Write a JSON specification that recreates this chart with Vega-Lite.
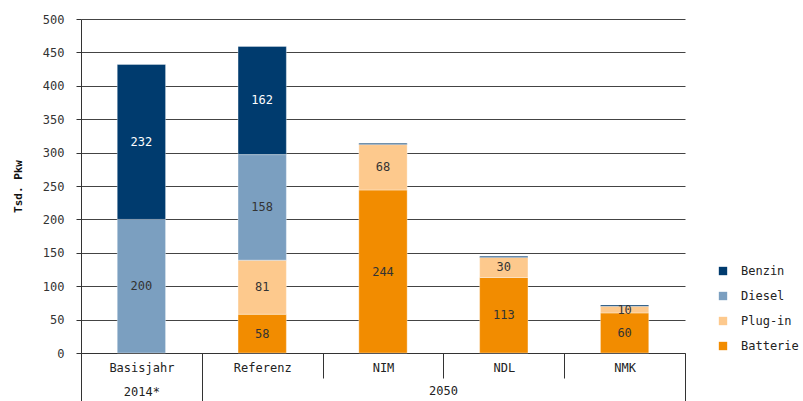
{
  "$schema": "https://vega.github.io/schema/vega-lite/v6.json",
  "width": 604,
  "height": 334,
  "autosize": "none",
  "padding": {"left": 81, "top": 19, "right": 118, "bottom": 48},
  "background": "white",
  "config": {
    "font": "DejaVu Sans Mono",
    "view": {"stroke": null},
    "axisY": {
      "values": [0, 50, 100, 150, 200, 250, 300, 350, 400, 450, 500],
      "labelOverlap": false,
      "title": "Tsd. Pkw",
      "titleFontWeight": "bold",
      "titleFontSize": 11,
      "titlePadding": 19,
      "titleColor": "#111",
      "labelFontSize": 12,
      "labelColor": "#333",
      "labelPadding": 12,
      "tickSize": 5,
      "tickColor": "#333",
      "domainColor": "#333",
      "gridColor": "#444"
    }
  },
  "data": {
    "values": [
      {"cat": "Basisjahr", "typ": "Diesel", "v": 200},
      {"cat": "Basisjahr", "typ": "Benzin", "v": 232},
      {"cat": "Referenz", "typ": "Batterie", "v": 58},
      {"cat": "Referenz", "typ": "Plug-in", "v": 81},
      {"cat": "Referenz", "typ": "Diesel", "v": 158},
      {"cat": "Referenz", "typ": "Benzin", "v": 162},
      {"cat": "NIM", "typ": "Batterie", "v": 244},
      {"cat": "NIM", "typ": "Plug-in", "v": 68},
      {"cat": "NIM", "typ": "Benzin", "v": 2},
      {"cat": "NDL", "typ": "Batterie", "v": 113},
      {"cat": "NDL", "typ": "Plug-in", "v": 30},
      {"cat": "NDL", "typ": "Benzin", "v": 2},
      {"cat": "NMK", "typ": "Batterie", "v": 60},
      {"cat": "NMK", "typ": "Plug-in", "v": 10},
      {"cat": "NMK", "typ": "Benzin", "v": 2}
    ]
  },
  "transform": [
    {"calculate": "indexof(['Batterie','Plug-in','Diesel','Benzin'], datum.typ)", "as": "ord"},
    {"stack": "v", "groupby": ["cat"], "sort": [{"field": "ord", "order": "ascending"}], "as": ["y0", "y1"]},
    {"calculate": "(datum.y0 + datum.y1) / 2", "as": "ym"}
  ],
  "encoding": {
    "x": {
      "field": "cat",
      "type": "nominal",
      "sort": ["Basisjahr", "Referenz", "NIM", "NDL", "NMK"],
      "scale": {"paddingInner": 0, "paddingOuter": 0},
      "axis": {
        "title": "2050",
        "titleX": 362,
        "titleY": 37,
        "titleBaseline": "middle",
        "titleAlign": "center",
        "titleFontWeight": "normal",
        "titleFontSize": 12,
        "titleColor": "#222",
        "labelAngle": 0,
        "labelFontSize": 12,
        "labelColor": "#222",
        "labelBaseline": "top",
        "labelLineHeight": 24,
        "labelPadding": {"condition": {"test": "datum.value === 'Referenz' || datum.value === 'NIM' || datum.value === 'NDL'", "value": -16}, "value": -39},
        "labelOverlap": false,
        "labelExpr": "datum.value === 'Basisjahr' ? ['Basisjahr', '2014*'] : datum.value",
        "tickBand": "extent",
        "tickSize": {"condition": {"test": "datum.value === 'Referenz' || datum.value === 'NIM' || datum.value === 'NDL'", "value": 25}, "value": 48},
        "tickColor": "#333",
        "domainColor": "#333",
        "grid": false
      }
    }
  },
  "layer": [
    {
      "mark": {"type": "bar", "width": {"band": 0.4}, "stroke": "#ffffff", "strokeOpacity": 0.35, "strokeWidth": 1},
      "encoding": {
        "y": {"field": "y1", "type": "quantitative", "scale": {"domain": [0, 500]}, "title": "Tsd. Pkw"},
        "y2": {"field": "y0"},
        "color": {
          "field": "typ",
          "type": "nominal",
          "scale": {
            "domain": ["Benzin", "Diesel", "Plug-in", "Batterie"],
            "range": ["#003b6e", "#7b9fc0", "#fdc98d", "#f28c00"]
          },
          "legend": {
            "orient": "none",
            "legendX": 636,
            "legendY": 246,
            "title": null,
            "symbolType": "square",
            "symbolSize": 70,
            "symbolStrokeWidth": 0,
            "labelFontSize": 12,
            "labelColor": "#222",
            "rowPadding": 13,
            "labelOffset": 12,
            "padding": 0
          }
        }
      }
    },
    {
      "transform": [{"filter": "datum.v >= 5"}],
      "mark": {"type": "text", "fontSize": 12},
      "encoding": {
        "y": {"field": "ym", "type": "quantitative", "title": "Tsd. Pkw"},
        "text": {"field": "v", "type": "quantitative"},
        "color": {"condition": {"test": "datum.typ === 'Benzin'", "value": "white"}, "value": "#333"}
      }
    }
  ]
}
